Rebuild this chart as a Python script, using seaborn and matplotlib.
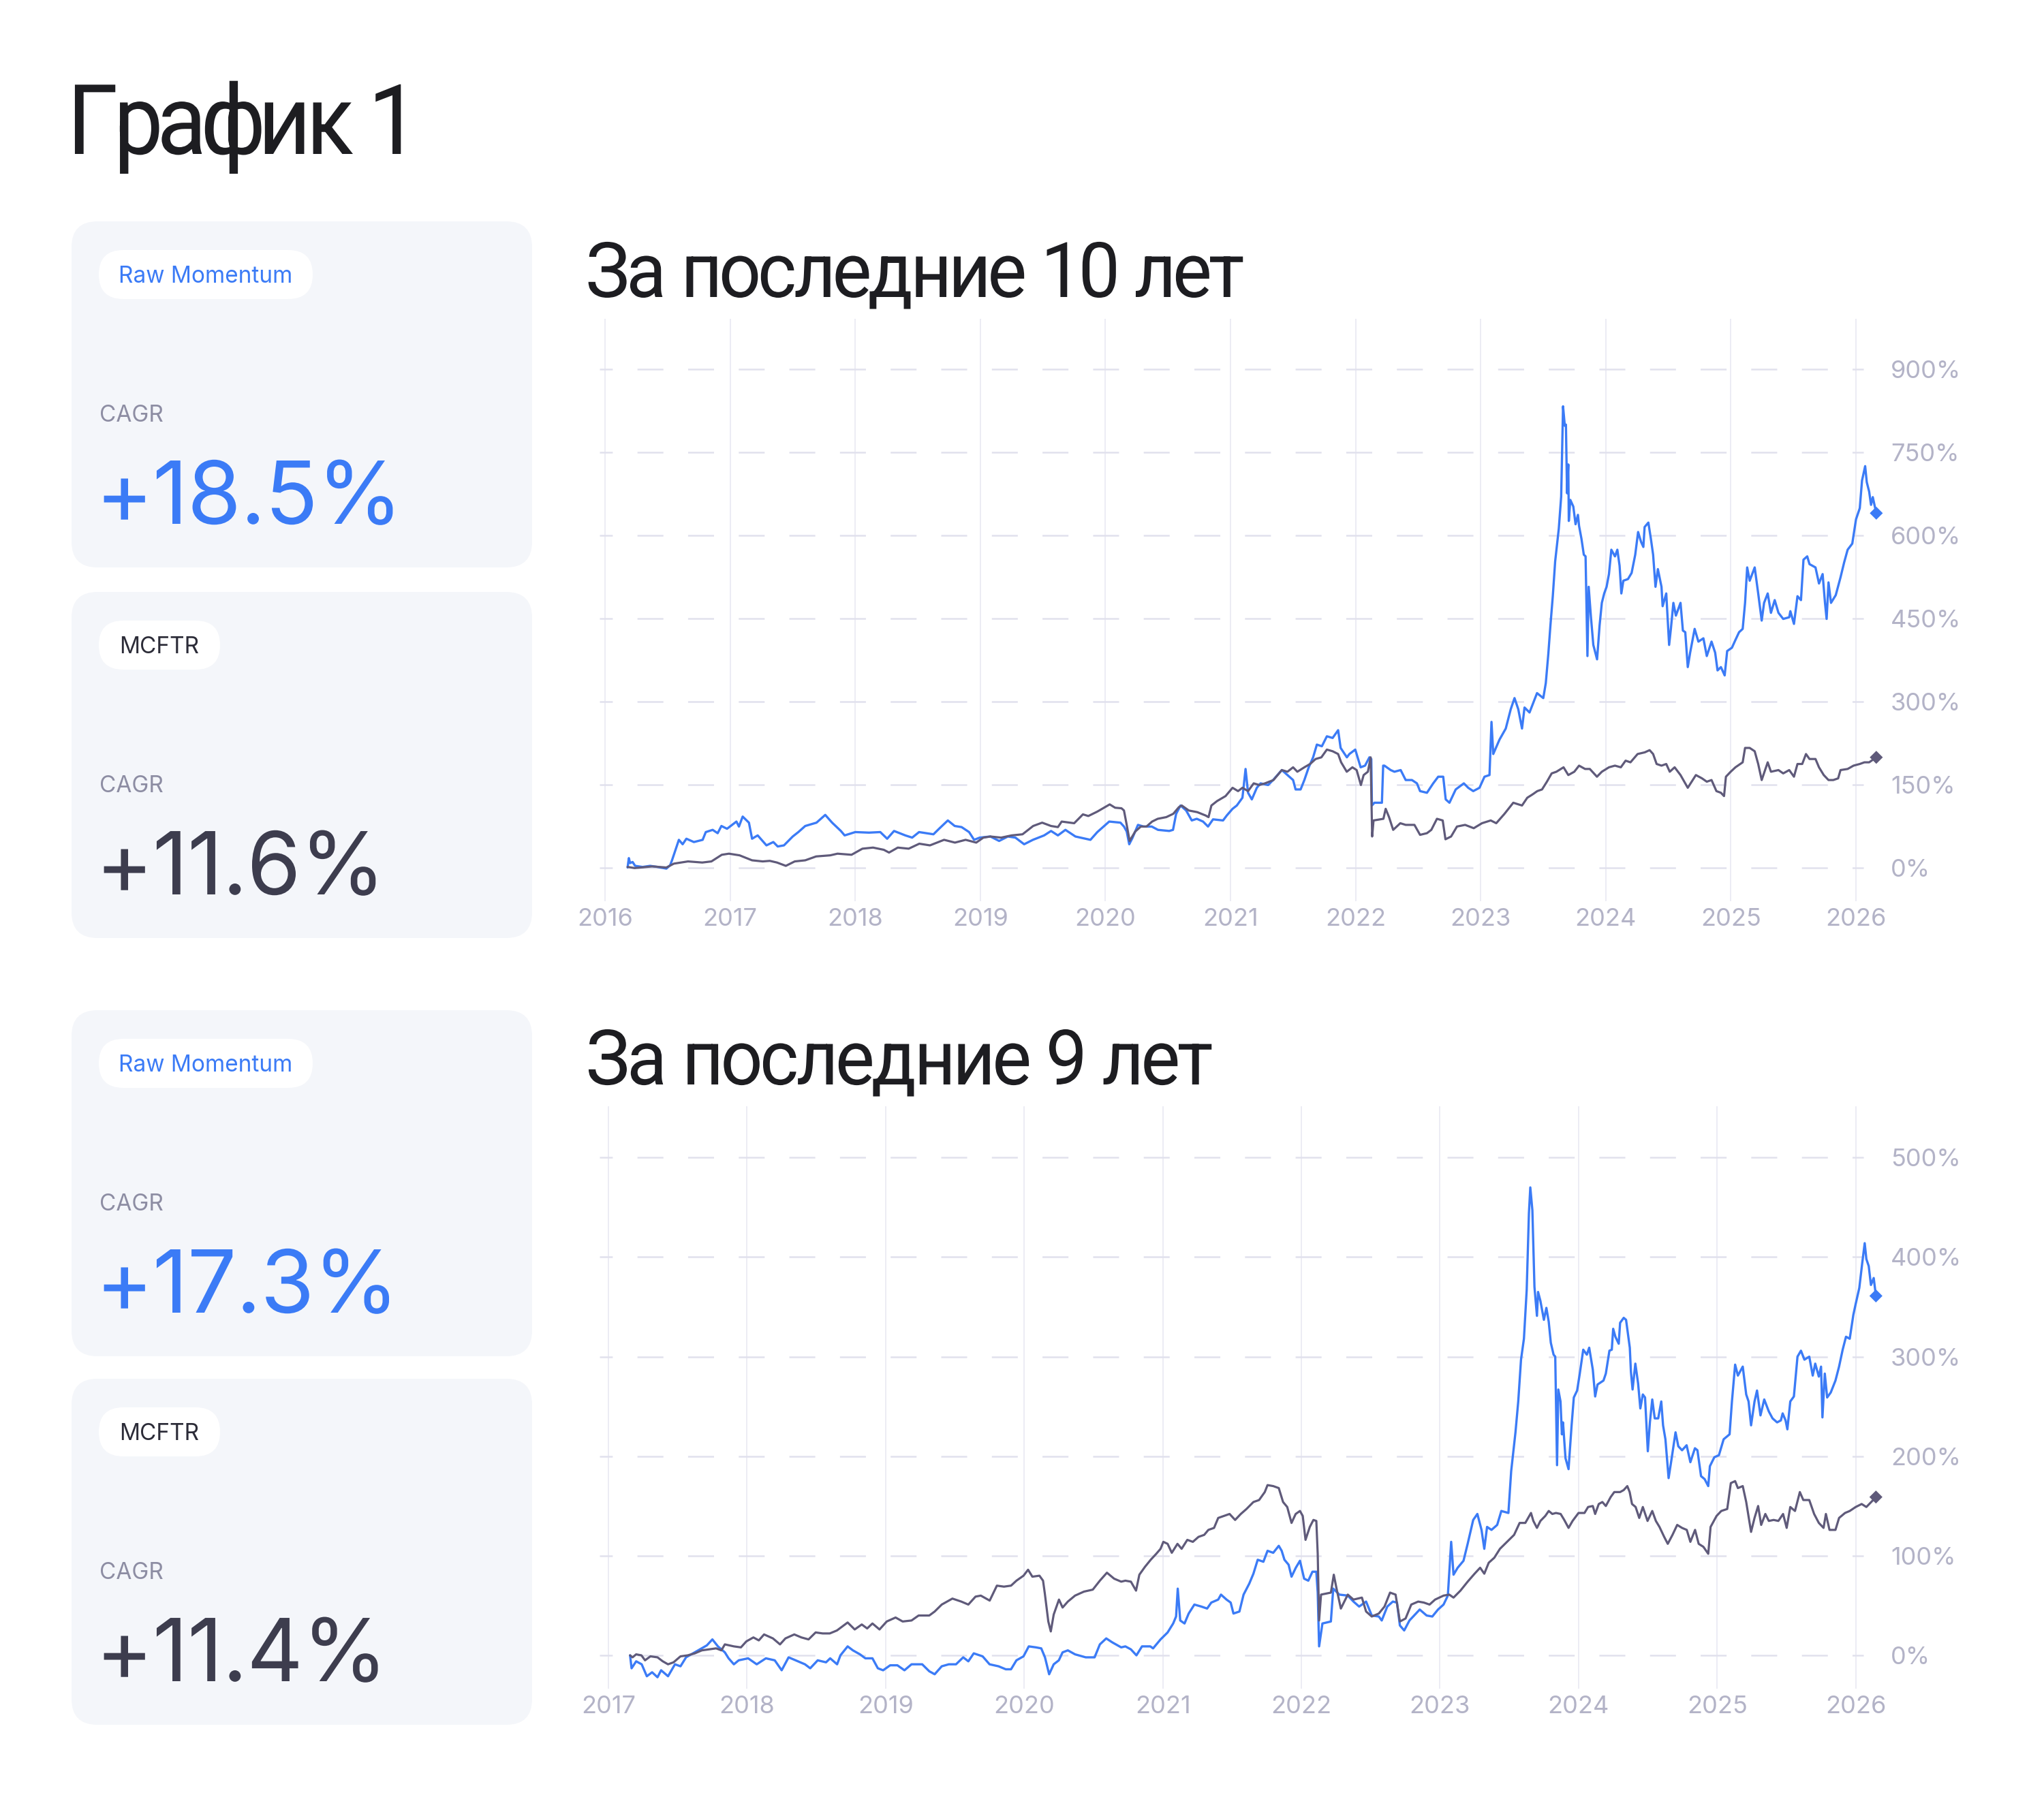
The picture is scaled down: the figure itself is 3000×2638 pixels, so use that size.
import numpy as np
import matplotlib
matplotlib.use("Agg")
import matplotlib.pyplot as plt
from matplotlib.patches import FancyBboxPatch
from matplotlib.patheffects import AbstractPathEffect
from matplotlib.path import Path
import pandas as pd
import seaborn as sns

# ------------------------------------------------------------------ data
# (decimal year, cumulative return %)
top_raw_momentum = [
    (2016.18, 0), (2016.19, 17), (2016.20, 8), (2016.22, 10), (2016.24, 3), (2016.30, 1), (2016.36, 3),
    (2016.42, 1), (2016.49, -2), (2016.52, 4), (2016.535, 13), (2016.59, 50), (2016.62, 42), (2016.65, 52),
    (2016.71, 46), (2016.78, 50), (2016.805, 64), (2016.86, 68), (2016.90, 62), (2016.93, 75), (2016.975, 70),
    (2017.05, 83), (2017.07, 74), (2017.10, 92), (2017.15, 81), (2017.175, 52), (2017.22, 58), (2017.29, 40),
    (2017.345, 46), (2017.38, 38), (2017.43, 40), (2017.50, 56), (2017.545, 64), (2017.60, 75), (2017.69, 81),
    (2017.76, 95), (2017.815, 81), (2017.885, 66), (2017.915, 58), (2018.00, 64), (2018.11, 63), (2018.20, 64),
    (2018.255, 52), (2018.31, 66), (2018.40, 58), (2018.455, 54), (2018.51, 64), (2018.625, 60), (2018.67, 70),
    (2018.74, 85), (2018.795, 75), (2018.85, 73), (2018.91, 64), (2018.95, 50), (2018.995, 54), (2019.08, 56),
    (2019.15, 48), (2019.22, 56), (2019.28, 54), (2019.35, 42), (2019.42, 50), (2019.51, 58), (2019.565, 66),
    (2019.62, 58), (2019.68, 68), (2019.76, 56), (2019.88, 50), (2019.935, 64), (2020.03, 83), (2020.12, 81),
    (2020.148, 74), (2020.17, 65), (2020.19, 42), (2020.215, 53), (2020.26, 77), (2020.305, 74), (2020.37, 74),
    (2020.42, 68), (2020.51, 66), (2020.54, 68), (2020.565, 97), (2020.60, 112), (2020.645, 103), (2020.69, 85),
    (2020.73, 88), (2020.78, 83), (2020.82, 74), (2020.86, 87), (2020.94, 85), (2020.97, 94), (2021.016, 106),
    (2021.05, 112), (2021.095, 126), (2021.12, 178), (2021.14, 135), (2021.17, 123), (2021.21, 144),
    (2021.24, 152), (2021.30, 149), (2021.34, 158), (2021.41, 176), (2021.455, 167), (2021.50, 158),
    (2021.52, 141), (2021.56, 141), (2021.59, 158), (2021.625, 181), (2021.66, 199), (2021.69, 222),
    (2021.73, 219), (2021.77, 237), (2021.816, 234), (2021.86, 248), (2021.88, 216), (2021.93, 199),
    (2021.95, 205), (2021.997, 213), (2022.04, 181), (2022.075, 184), (2022.11, 199), (2022.125, 196),
    (2022.13, 112), (2022.15, 117), (2022.21, 117), (2022.22, 184), (2022.23, 184), (2022.28, 176),
    (2022.31, 173), (2022.36, 176), (2022.40, 158), (2022.45, 158), (2022.49, 152), (2022.515, 138),
    (2022.57, 135), (2022.62, 152), (2022.66, 164), (2022.70, 164), (2022.72, 123), (2022.75, 117),
    (2022.80, 141), (2022.865, 152), (2022.90, 144), (2022.94, 138), (2022.99, 144), (2023.03, 164),
    (2023.07, 167), (2023.086, 263), (2023.10, 205), (2023.15, 231), (2023.20, 251), (2023.24, 286),
    (2023.27, 306), (2023.30, 286), (2023.33, 251), (2023.35, 289), (2023.39, 280), (2023.45, 315),
    (2023.50, 306), (2023.52, 333), (2023.54, 385), (2023.557, 437), (2023.576, 490), (2023.595, 553),
    (2023.624, 612), (2023.643, 670), (2023.658, 833), (2023.672, 798), (2023.681, 800), (2023.69, 676),
    (2023.70, 728), (2023.704, 626), (2023.716, 664), (2023.74, 652), (2023.758, 620), (2023.777, 637),
    (2023.786, 617), (2023.805, 594), (2023.824, 565), (2023.838, 562), (2023.853, 382), (2023.863, 507),
    (2023.88, 455), (2023.90, 402), (2023.93, 376), (2023.95, 437), (2023.968, 478), (2023.987, 495),
    (2024.006, 507), (2024.025, 530), (2024.044, 574), (2024.073, 562), (2024.092, 574), (2024.11, 545),
    (2024.124, 495), (2024.14, 518), (2024.177, 521), (2024.206, 532), (2024.235, 565), (2024.258, 606),
    (2024.282, 588), (2024.30, 579), (2024.31, 615), (2024.34, 623), (2024.36, 594), (2024.378, 565),
    (2024.397, 507), (2024.416, 539), (2024.445, 507), (2024.454, 472), (2024.483, 495), (2024.506, 402),
    (2024.52, 431), (2024.54, 478), (2024.56, 455), (2024.597, 478), (2024.616, 428), (2024.635, 425),
    (2024.655, 362), (2024.674, 388), (2024.71, 431), (2024.74, 408), (2024.78, 414), (2024.807, 382),
    (2024.845, 408), (2024.874, 388), (2024.893, 356), (2024.92, 362), (2024.95, 347), (2024.97, 391),
    (2025.008, 397), (2025.036, 411), (2025.065, 425), (2025.094, 431), (2025.113, 478), (2025.13, 542),
    (2025.15, 518), (2025.19, 542), (2025.218, 495), (2025.246, 446), (2025.265, 478), (2025.294, 495),
    (2025.32, 460), (2025.35, 483), (2025.38, 460), (2025.418, 449), (2025.466, 452), (2025.475, 463),
    (2025.504, 440), (2025.532, 490), (2025.56, 483), (2025.58, 556), (2025.61, 562), (2025.628, 548),
    (2025.676, 542), (2025.704, 513), (2025.733, 530), (2025.752, 478), (2025.765, 449), (2025.78, 515),
    (2025.80, 478), (2025.838, 492), (2025.876, 524), (2025.905, 551), (2025.933, 574), (2025.97, 585),
    (2026.0, 629), (2026.03, 649), (2026.048, 699), (2026.073, 725), (2026.086, 696), (2026.105, 679),
    (2026.12, 655), (2026.134, 669), (2026.162, 640),
]

top_mcftr = [
    (2016.18, 1), (2016.236, -1), (2016.378, 2), (2016.49, 0), (2016.55, 7), (2016.663, 11), (2016.777, 9),
    (2016.85, 11), (2016.933, 23), (2016.99, 25), (2017.075, 22), (2017.175, 13), (2017.26, 11),
    (2017.317, 12), (2017.374, 9), (2017.445, 3), (2017.516, 11), (2017.60, 13), (2017.687, 20),
    (2017.80, 22), (2017.858, 25), (2017.97, 23), (2018.057, 34), (2018.142, 36), (2018.228, 32),
    (2018.27, 27), (2018.34, 36), (2018.427, 34), (2018.512, 43), (2018.597, 40), (2018.71, 50),
    (2018.797, 45), (2018.882, 50), (2018.967, 45), (2019.024, 54), (2019.08, 56), (2019.166, 54),
    (2019.25, 58), (2019.337, 60), (2019.422, 75), (2019.494, 81), (2019.565, 75), (2019.62, 73),
    (2019.65, 83), (2019.75, 80), (2019.82, 96), (2019.863, 93), (2019.935, 101), (2020.034, 114),
    (2020.077, 108), (2020.128, 107), (2020.148, 103), (2020.17, 77), (2020.193, 48), (2020.238, 65),
    (2020.283, 74), (2020.328, 74), (2020.373, 83), (2020.418, 88), (2020.486, 91), (2020.542, 97),
    (2020.587, 109), (2020.61, 112), (2020.666, 103), (2020.734, 100), (2020.80, 94), (2020.824, 91),
    (2020.847, 112), (2020.892, 120), (2020.96, 129), (2021.016, 144), (2021.06, 138), (2021.095, 144),
    (2021.14, 138), (2021.185, 152), (2021.23, 149), (2021.275, 152), (2021.343, 158), (2021.41, 176),
    (2021.455, 173), (2021.50, 181), (2021.534, 173), (2021.59, 181), (2021.636, 187), (2021.68, 196),
    (2021.726, 199), (2021.77, 213), (2021.816, 210), (2021.86, 205), (2021.884, 190), (2021.929, 173),
    (2021.974, 181), (2022.008, 176), (2022.042, 149), (2022.064, 167), (2022.098, 173), (2022.12, 199),
    (2022.132, 56), (2022.143, 85), (2022.222, 88), (2022.24, 106), (2022.267, 91), (2022.30, 68),
    (2022.357, 80), (2022.40, 77), (2022.47, 77), (2022.515, 59), (2022.57, 62), (2022.605, 68),
    (2022.65, 88), (2022.696, 85), (2022.718, 51), (2022.763, 56), (2022.81, 74), (2022.875, 77),
    (2022.944, 71), (2023.01, 80), (2023.08, 85), (2023.124, 80), (2023.19, 97), (2023.26, 117),
    (2023.33, 112), (2023.372, 126), (2023.414, 132), (2023.452, 138), (2023.49, 141), (2023.529, 155),
    (2023.567, 170), (2023.605, 173), (2023.662, 181), (2023.70, 167), (2023.748, 173), (2023.786, 184),
    (2023.834, 178), (2023.872, 178), (2023.929, 164), (2023.968, 173), (2024.025, 181), (2024.073, 184),
    (2024.12, 181), (2024.158, 193), (2024.197, 190), (2024.254, 205), (2024.311, 208), (2024.35, 212),
    (2024.378, 205), (2024.406, 187), (2024.445, 184), (2024.483, 187), (2024.511, 173), (2024.55, 181),
    (2024.597, 167), (2024.655, 144), (2024.72, 167), (2024.769, 161), (2024.807, 155), (2024.845, 158),
    (2024.884, 138), (2024.92, 135), (2024.945, 129), (2024.96, 164), (2024.998, 173), (2025.036, 181),
    (2025.094, 190), (2025.113, 216), (2025.15, 216), (2025.19, 210), (2025.218, 187), (2025.246, 158),
    (2025.294, 190), (2025.32, 173), (2025.38, 176), (2025.418, 170), (2025.466, 176), (2025.504, 164),
    (2025.532, 187), (2025.57, 187), (2025.60, 205), (2025.628, 196), (2025.676, 196), (2025.704, 181),
    (2025.742, 167), (2025.78, 158), (2025.818, 158), (2025.857, 161), (2025.876, 176), (2025.933, 178),
    (2025.98, 184), (2026.03, 187), (2026.067, 190), (2026.105, 190), (2026.162, 199),
]

bottom_raw_momentum = [
    (2017.156, 0), (2017.167, -13), (2017.20, -6), (2017.24, -9), (2017.277, -21), (2017.315, -17),
    (2017.354, -22), (2017.38, -15), (2017.43, -21), (2017.48, -9), (2017.52, -11), (2017.56, -2),
    (2017.61, 2), (2017.66, 6), (2017.71, 10), (2017.75, 16), (2017.79, 9), (2017.84, 3), (2017.867, -3),
    (2017.905, -9), (2017.94, -5), (2018.008, -3), (2018.07, -9), (2018.136, -3), (2018.20, -5),
    (2018.25, -15), (2018.30, -2), (2018.367, -6), (2018.418, -9), (2018.456, -13), (2018.51, -5),
    (2018.57, -7), (2018.60, -3), (2018.65, -9), (2018.674, 0), (2018.726, 9), (2018.764, 5), (2018.815, 1),
    (2018.854, -3), (2018.905, -3), (2018.944, -13), (2018.982, -15), (2019.033, -10), (2019.085, -10),
    (2019.136, -15), (2019.187, -9), (2019.264, -9), (2019.315, -16), (2019.354, -19), (2019.405, -11),
    (2019.456, -9), (2019.508, -9), (2019.56, -2), (2019.597, -6), (2019.636, 2), (2019.70, -1),
    (2019.75, -9), (2019.815, -11), (2019.867, -14), (2019.905, -14), (2019.944, -5), (2019.995, -1),
    (2020.033, 9), (2020.085, 8), (2020.123, 7), (2020.15, -2), (2020.18, -19), (2020.213, -9),
    (2020.25, -5), (2020.277, 3), (2020.315, 5), (2020.367, 1), (2020.444, -2), (2020.508, -2),
    (2020.546, 11), (2020.592, 17), (2020.636, 13), (2020.70, 8), (2020.73, 9), (2020.77, 6), (2020.81, 0),
    (2020.85, 9), (2020.91, 9), (2020.93, 7), (2020.984, 16), (2021.035, 23), (2021.075, 32),
    (2021.096, 39), (2021.108, 67), (2021.126, 35), (2021.157, 32), (2021.187, 42), (2021.228, 51),
    (2021.278, 49), (2021.32, 47), (2021.35, 53), (2021.40, 56), (2021.42, 61), (2021.46, 56),
    (2021.49, 53), (2021.51, 42), (2021.553, 44), (2021.583, 61), (2021.624, 72), (2021.654, 82),
    (2021.685, 96), (2021.726, 94), (2021.756, 105), (2021.797, 103), (2021.837, 110), (2021.858, 105),
    (2021.878, 96), (2021.908, 91), (2021.929, 79), (2021.96, 88), (2021.99, 95), (2022.02, 77),
    (2022.05, 75), (2022.08, 84), (2022.108, 84), (2022.118, 63), (2022.128, 9), (2022.152, 32),
    (2022.213, 34), (2022.23, 67), (2022.274, 61), (2022.335, 60), (2022.376, 54), (2022.417, 49),
    (2022.467, 54), (2022.508, 40), (2022.559, 39), (2022.58, 35), (2022.62, 49), (2022.66, 54),
    (2022.69, 53), (2022.711, 30), (2022.742, 25), (2022.78, 35), (2022.854, 46), (2022.904, 40),
    (2022.945, 39), (2022.986, 46), (2023.026, 51), (2023.057, 60), (2023.081, 114), (2023.098, 81),
    (2023.128, 88), (2023.17, 95), (2023.20, 112), (2023.24, 136), (2023.27, 142), (2023.30, 126),
    (2023.32, 107), (2023.34, 129), (2023.372, 126), (2023.413, 131), (2023.443, 145), (2023.494, 143),
    (2023.514, 185), (2023.545, 224), (2023.565, 255), (2023.585, 297), (2023.606, 318), (2023.626, 367),
    (2023.642, 444), (2023.652, 470), (2023.667, 447), (2023.682, 370), (2023.70, 341), (2023.708, 365),
    (2023.725, 356), (2023.75, 337), (2023.768, 349), (2023.785, 335), (2023.80, 314), (2023.82, 302),
    (2023.832, 300), (2023.845, 191), (2023.854, 267), (2023.87, 255), (2023.88, 222), (2023.888, 234),
    (2023.906, 198), (2023.928, 187), (2023.95, 231), (2023.966, 259), (2023.99, 266), (2024.009, 283),
    (2024.034, 307), (2024.06, 302), (2024.077, 309), (2024.103, 287), (2024.12, 260), (2024.137, 272),
    (2024.18, 276), (2024.197, 283), (2024.223, 306), (2024.24, 307), (2024.25, 328), (2024.266, 320),
    (2024.29, 313), (2024.30, 334), (2024.326, 339), (2024.343, 337), (2024.37, 309), (2024.378, 285),
    (2024.39, 267), (2024.41, 293), (2024.43, 273), (2024.446, 248), (2024.464, 262), (2024.48, 259),
    (2024.50, 205), (2024.515, 234), (2024.532, 257), (2024.55, 238), (2024.575, 238), (2024.597, 255),
    (2024.61, 231), (2024.627, 217), (2024.65, 178), (2024.67, 196), (2024.70, 224), (2024.72, 210),
    (2024.747, 206), (2024.78, 211), (2024.807, 194), (2024.84, 208), (2024.858, 206), (2024.884, 180),
    (2024.91, 177), (2024.936, 170), (2024.948, 190), (2024.98, 199), (2025.013, 201), (2025.047, 217),
    (2025.09, 222), (2025.107, 255), (2025.13, 292), (2025.15, 281), (2025.185, 290), (2025.21, 262),
    (2025.227, 255), (2025.245, 231), (2025.27, 255), (2025.288, 266), (2025.313, 241), (2025.34, 257),
    (2025.373, 245), (2025.40, 238), (2025.433, 234), (2025.46, 236), (2025.473, 243), (2025.494, 236),
    (2025.507, 227), (2025.528, 255), (2025.554, 260), (2025.58, 300), (2025.605, 306), (2025.63, 297),
    (2025.665, 300), (2025.69, 281), (2025.708, 293), (2025.734, 280), (2025.75, 290), (2025.76, 239),
    (2025.777, 283), (2025.794, 259), (2025.82, 264), (2025.854, 276), (2025.88, 290), (2025.906, 307),
    (2025.93, 320), (2025.957, 318), (2025.983, 342), (2026.0, 353), (2026.026, 369), (2026.048, 395),
    (2026.065, 414), (2026.077, 398), (2026.094, 391), (2026.11, 372), (2026.13, 379), (2026.146, 361),
]

bottom_mcftr = [
    (2017.156, 0), (2017.174, -2), (2017.20, 1), (2017.238, 0), (2017.264, -5), (2017.303, -1),
    (2017.354, -2), (2017.392, -6), (2017.43, -9), (2017.47, -7), (2017.52, -1), (2017.572, 0),
    (2017.623, 2), (2017.674, 5), (2017.726, 6), (2017.777, 7), (2017.815, 5), (2017.84, 11),
    (2017.905, 9), (2017.956, 8), (2017.995, 14), (2018.046, 18), (2018.085, 15), (2018.123, 21),
    (2018.187, 17), (2018.238, 11), (2018.277, 17), (2018.341, 21), (2018.392, 18), (2018.444, 16),
    (2018.495, 23), (2018.546, 22), (2018.597, 22), (2018.649, 25), (2018.726, 33), (2018.777, 26),
    (2018.828, 31), (2018.867, 27), (2018.905, 32), (2018.956, 26), (2019.008, 34), (2019.072, 38),
    (2019.123, 34), (2019.187, 35), (2019.238, 40), (2019.315, 40), (2019.354, 44), (2019.405, 51),
    (2019.482, 57), (2019.546, 54), (2019.597, 51), (2019.649, 59), (2019.687, 60), (2019.751, 55),
    (2019.803, 70), (2019.854, 69), (2019.905, 70), (2019.944, 75), (2019.995, 80), (2020.028, 86),
    (2020.059, 79), (2020.11, 80), (2020.136, 75), (2020.149, 62), (2020.174, 34), (2020.192, 24),
    (2020.213, 41), (2020.251, 56), (2020.277, 48), (2020.315, 54), (2020.367, 60), (2020.431, 64),
    (2020.495, 66), (2020.546, 75), (2020.597, 83), (2020.649, 77), (2020.70, 74), (2020.73, 75),
    (2020.77, 74), (2020.807, 65), (2020.831, 81), (2020.872, 89), (2020.913, 96), (2020.953, 102),
    (2020.984, 107), (2021.004, 114), (2021.035, 112), (2021.065, 103), (2021.106, 112), (2021.136, 107),
    (2021.177, 116), (2021.217, 114), (2021.258, 119), (2021.299, 121), (2021.329, 126), (2021.37, 128),
    (2021.40, 138), (2021.441, 140), (2021.482, 142), (2021.522, 136), (2021.563, 142), (2021.604, 147),
    (2021.654, 154), (2021.695, 156), (2021.736, 164), (2021.756, 171), (2021.797, 170), (2021.837, 168),
    (2021.868, 154), (2021.898, 149), (2021.929, 133), (2021.959, 142), (2021.99, 145), (2022.01, 140),
    (2022.03, 116), (2022.061, 129), (2022.087, 136), (2022.108, 135), (2022.118, 102), (2022.128, 35),
    (2022.142, 61), (2022.213, 63), (2022.234, 81), (2022.254, 67), (2022.285, 47), (2022.335, 61),
    (2022.376, 56), (2022.437, 58), (2022.467, 44), (2022.508, 39), (2022.559, 42), (2022.60, 49),
    (2022.64, 63), (2022.68, 61), (2022.711, 34), (2022.752, 37), (2022.793, 51), (2022.843, 54),
    (2022.884, 53), (2022.925, 51), (2022.965, 56), (2023.026, 60), (2023.067, 61), (2023.098, 58),
    (2023.148, 65), (2023.20, 74), (2023.25, 82), (2023.29, 88), (2023.32, 82), (2023.352, 93),
    (2023.392, 98), (2023.433, 107), (2023.484, 114), (2023.535, 121), (2023.575, 133), (2023.616, 133),
    (2023.657, 143), (2023.674, 135), (2023.70, 128), (2023.725, 135), (2023.76, 140), (2023.785, 145),
    (2023.811, 142), (2023.837, 143), (2023.871, 142), (2023.897, 136), (2023.928, 128), (2023.957, 135),
    (2024.0, 143), (2024.043, 143), (2024.069, 149), (2024.103, 150), (2024.12, 142), (2024.146, 152),
    (2024.172, 154), (2024.197, 150), (2024.232, 159), (2024.258, 164), (2024.30, 164), (2024.326, 166),
    (2024.352, 170), (2024.369, 164), (2024.386, 152), (2024.412, 149), (2024.438, 138), (2024.464, 149),
    (2024.498, 135), (2024.532, 145), (2024.558, 135), (2024.584, 129), (2024.618, 119), (2024.644, 112),
    (2024.678, 121), (2024.712, 131), (2024.747, 128), (2024.781, 126), (2024.807, 114), (2024.841, 126),
    (2024.867, 112), (2024.901, 109), (2024.936, 102), (2024.953, 129), (2024.996, 140), (2025.03, 145),
    (2025.073, 147), (2025.099, 173), (2025.13, 175), (2025.15, 168), (2025.185, 170), (2025.21, 154),
    (2025.245, 124), (2025.27, 138), (2025.296, 150), (2025.318, 131), (2025.348, 142), (2025.373, 135),
    (2025.408, 136), (2025.442, 135), (2025.476, 142), (2025.502, 128), (2025.528, 149), (2025.562, 145),
    (2025.597, 164), (2025.622, 156), (2025.665, 156), (2025.70, 142), (2025.734, 133), (2025.768, 128),
    (2025.785, 142), (2025.811, 126), (2025.854, 126), (2025.88, 138), (2025.923, 143), (2025.957, 145),
    (2026.0, 149), (2026.043, 152), (2026.077, 149), (2026.112, 154), (2026.146, 159),
]

top_years = [2016, 2017, 2018, 2019, 2020, 2021, 2022, 2023, 2024, 2025, 2026]
top_yticks = [0, 150, 300, 450, 600, 750, 900]
bottom_years = [2017, 2018, 2019, 2020, 2021, 2022, 2023, 2024, 2025, 2026]
bottom_yticks = [0, 100, 200, 300, 400, 500]

page_title = "График 1"
chart_titles = ["За последние 10 лет", "За последние 9 лет"]
series_names = ["Raw Momentum", "MCFTR"]
cagr_top = ["+18.5%", "+11.6%"]
cagr_bottom = ["+17.3%", "+11.4%"]

# ------------------------------------------------------------------ style
W, H, DPI = 3000, 2638, 100
BLUE = "#3b7bf6"
DARK = "#5f5a7a"
CARD = "#f4f6fa"
TICK = "#b3b3c7"
CAGR_GREY = "#8d8da3"
TITLE_C = "#1d1d21"
VGRID = "#ebebf3"
HGRID = "#e1e1ed"

sns.set_theme(style="white")
plt.rcParams["font.family"] = ["Inter", "DejaVu Sans"]
plt.rcParams["lines.scale_dashes"] = False
HEAD_FONT = ["Roboto", "DejaVu Sans"]


class Tracking(AbstractPathEffect):
    """Tighten letter spacing of a text: each glyph contour is moved toward the
    text origin (total factor) and slightly narrowed (glyph factor)."""

    def __init__(self, total=0.9, glyph=0.96):
        super().__init__()
        self.total = total
        self.glyph = glyph

    def draw_path(self, renderer, gc, tpath, affine, rgbFace=None):
        verts = np.array(tpath.vertices, dtype=float, copy=True)
        codes = tpath.codes
        if codes is not None and len(verts):
            starts = list(np.where(codes == Path.MOVETO)[0])
            if not starts or starts[0] != 0:
                starts = [0] + starts
            ends = starts[1:] + [len(verts)]
            for s, e in zip(starts, ends):
                seg = verts[s:e, 0]
                cx = 0.5 * (seg.min() + seg.max())
                verts[s:e, 0] = cx * self.total + (seg - cx) * self.glyph
        renderer.draw_path(gc, Path(verts, codes), affine, rgbFace)


fig = plt.figure(figsize=(W / DPI, H / DPI), dpi=DPI)
fig.patch.set_facecolor("white")

bg = fig.add_axes([0, 0, 1, 1], zorder=0)
bg.set_xlim(0, W)
bg.set_ylim(H, 0)
bg.axis("off")


def px_axes(l, t, r, b):
    return fig.add_axes([l / W, 1 - b / H, (r - l) / W, (b - t) / H], zorder=2)


# page title
bg.text(103, 226, page_title, fontsize=103, family=HEAD_FONT, color=TITLE_C,
        ha="left", va="baseline", path_effects=[Tracking(0.82, 0.95)])

# cards
cards = [
    (325, series_names[0], 314, BLUE, cagr_top[0], BLUE),
    (869, series_names[1], 178, "#2c2c38", cagr_top[1], "#3d3d4e"),
    (1483, series_names[0], 314, BLUE, cagr_bottom[0], BLUE),
    (2024, series_names[1], 178, "#2c2c38", cagr_bottom[1], "#3d3d4e"),
]
for top, tag, tag_w, tag_c, val, val_c in cards:
    bg.add_patch(FancyBboxPatch((105, top), 676, 508,
                                boxstyle="round,pad=0,rounding_size=38",
                                fc=CARD, ec="none"))
    bg.add_patch(FancyBboxPatch((145, top + 42), tag_w, 72,
                                boxstyle="round,pad=0,rounding_size=36",
                                fc="white", ec="none"))
    bg.text(145 + tag_w / 2, top + 90, tag, fontsize=24, color=tag_c,
            ha="center", va="baseline")
    bg.text(146, top + 294, "CAGR", fontsize=24, color=CAGR_GREY,
            ha="left", va="baseline")
    bg.text(141, top + 444, val, fontsize=92, color=val_c,
            ha="left", va="baseline", path_effects=[Tracking(0.985, 1.0)])

# chart titles
bg.text(862, 436, chart_titles[0], fontsize=81, family=HEAD_FONT, color=TITLE_C,
        ha="left", va="baseline", path_effects=[Tracking(0.885, 0.97)])
bg.text(862, 1592, chart_titles[1], fontsize=81, family=HEAD_FONT, color=TITLE_C,
        ha="left", va="baseline", path_effects=[Tracking(0.895, 0.97)])


def draw_chart(ax, rm, mc, years, yticks, xlim, ylim, grid_end):
    ax.set_facecolor("none")
    for s in ax.spines.values():
        s.set_visible(False)
    for yr in years:
        ax.axvline(yr, color=VGRID, lw=1.3, zorder=0)
    ax.hlines(yticks, xlim[0], grid_end, colors=HGRID, lw=1.8,
              linestyles=[(13.8, (27.4, 26.1))], zorder=0)

    df_rm = pd.DataFrame(rm, columns=["date", "value"])
    df_mc = pd.DataFrame(mc, columns=["date", "value"])
    sns.lineplot(data=df_rm, x="date", y="value", ax=ax, color=BLUE, lw=2.4,
                 estimator=None, sort=False, zorder=3)
    sns.lineplot(data=df_mc, x="date", y="value", ax=ax, color=DARK, lw=2.3,
                 estimator=None, sort=False, zorder=4)
    sns.scatterplot(data=df_rm.tail(1), x="date", y="value", ax=ax, marker="D",
                    s=95, color=BLUE, edgecolor="none", linewidth=0, zorder=5)
    sns.scatterplot(data=df_mc.tail(1), x="date", y="value", ax=ax, marker="D",
                    s=95, color=DARK, edgecolor="none", linewidth=0, zorder=5)

    ax.set_xlim(*xlim)
    ax.set_ylim(*ylim)
    ax.set_xticks(years)
    ax.set_xticklabels([str(y) for y in years])
    ax.set_yticks(yticks)
    ax.set_yticklabels([f"{v}%" for v in yticks])
    ax.yaxis.tick_right()
    ax.tick_params(axis="both", length=0, labelsize=26, labelcolor=TICK)
    ax.tick_params(axis="x", pad=7)
    ax.tick_params(axis="y", pad=3.6)
    ax.set_xlabel("")
    ax.set_ylabel("")
    ax.grid(False)


ax_top = px_axes(880, 468, 2770, 1323)
draw_chart(ax_top, top_raw_momentum, top_mcftr, top_years, top_yticks,
           (2015.956, 2026.25), (-60.9, 991.1), 2026.06)

ax_bot = px_axes(880, 1624, 2770, 2479)
draw_chart(ax_bot, bottom_raw_momentum, bottom_mcftr, bottom_years, bottom_yticks,
           (2016.936, 2026.228), (-33.5, 551.5), 2026.056)

fig.savefig("out.png", dpi=DPI, facecolor="white")
